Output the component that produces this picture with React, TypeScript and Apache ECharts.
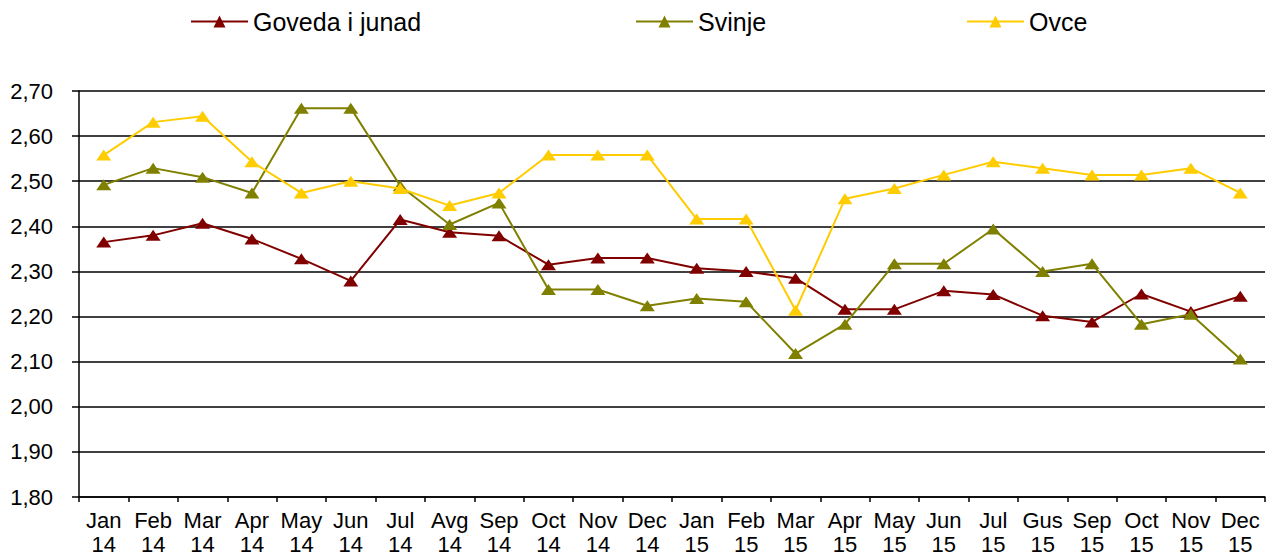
import React, { useEffect, useRef } from "react";
import * as echarts from "echarts";

const categories = [
  "Jan\n14", "Feb\n14", "Mar\n14", "Apr\n14", "May\n14", "Jun\n14",
  "Jul\n14", "Avg\n14", "Sep\n14", "Oct\n14", "Nov\n14", "Dec\n14",
  "Jan\n15", "Feb\n15", "Mar\n15", "Apr\n15", "May\n15", "Jun\n15",
  "Jul\n15", "Gus\n15", "Sep\n15", "Oct\n15", "Nov\n15", "Dec\n15",
];

const goveda = [
  2.365, 2.38, 2.407, 2.372, 2.328, 2.279, 2.415, 2.387, 2.379, 2.315, 2.33, 2.33,
  2.307, 2.3, 2.285, 2.216, 2.216, 2.257, 2.249, 2.202, 2.188, 2.25, 2.211, 2.245,
];

const svinje = [
  2.492, 2.529, 2.509, 2.474, 2.662, 2.662, 2.49, 2.404, 2.452, 2.26, 2.26, 2.224,
  2.24, 2.233, 2.118, 2.183, 2.317, 2.317, 2.394, 2.3, 2.317, 2.183, 2.205, 2.106,
];

const ovce = [
  2.558, 2.631, 2.644, 2.543, 2.474, 2.5, 2.484, 2.446, 2.474, 2.558, 2.558, 2.558,
  2.416, 2.416, 2.214, 2.461, 2.484, 2.514, 2.543, 2.529, 2.514, 2.514, 2.529, 2.474,
];

const seriesNames = ["Goveda i junad", "Svinje", "Ovce"];
const seriesColors = ["#800000", "#808000", "#FFCC00"];
const seriesData = [goveda, svinje, ovce];

const FONT = "'Liberation Sans', Arial, sans-serif";

export default function App() {
  const ref = useRef<HTMLDivElement>(null);

  useEffect(() => {
    if (!ref.current) return;
    const chart = echarts.init(ref.current, null, { renderer: "svg" });
    const legendLefts = [190, 635, 966];
    chart.setOption({
      animation: false,
      backgroundColor: "#ffffff",
      textStyle: { fontFamily: FONT, color: "#000" },
      legend: seriesNames.map((n, i) => ({
        data: [n],
        left: legendLefts[i],
        top: 9,
        itemWidth: 57,
        itemHeight: 15,
        itemGap: 5,
        textStyle: { fontFamily: FONT, fontSize: 25, color: "#000" },
        padding: 0,
        selectedMode: false,
      })),
      grid: { left: 79, right: 7, top: 91, bottom: 57, containLabel: false },
      xAxis: {
        type: "category",
        data: categories,
        boundaryGap: true,
        axisLine: { lineStyle: { color: "#000", width: 1.5 } },
        axisTick: { show: true, length: 5, lineStyle: { color: "#000", width: 1.5 }, alignWithLabel: false },
        axisLabel: {
          interval: 0,
          margin: 11,
          fontFamily: FONT,
          fontSize: 22,
          lineHeight: 24,
          color: "#000",
        },
      },
      yAxis: {
        type: "value",
        min: 1.8,
        max: 2.7,
        interval: 0.1,
        axisLine: { show: true, lineStyle: { color: "#000", width: 1.5 } },
        axisTick: { show: true, length: 7, lineStyle: { color: "#000", width: 1.5 } },
        splitLine: { show: true, lineStyle: { color: "#000", width: 1.5 } },
        axisLabel: {
          margin: 26,
          fontFamily: FONT,
          fontSize: 22,
          color: "#000",
          formatter: (v: number) => v.toFixed(2).replace(".", ","),
        },
      },
      series: seriesNames.map((n, i) => ({
        name: n,
        type: "line",
        data: seriesData[i],
        symbol: "triangle",
        symbolSize: [15, 11],
        showAllSymbol: true,
        lineStyle: { color: seriesColors[i], width: 2 },
        itemStyle: { color: seriesColors[i] },
        emphasis: { disabled: true },
        z: 2 + i,
      })),
    });
    return () => chart.dispose();
  }, []);

  return (
    <div
      ref={ref}
      style={{ position: "fixed", left: 0, top: 0, width: 1272, height: 556 }}
    />
  );
}
